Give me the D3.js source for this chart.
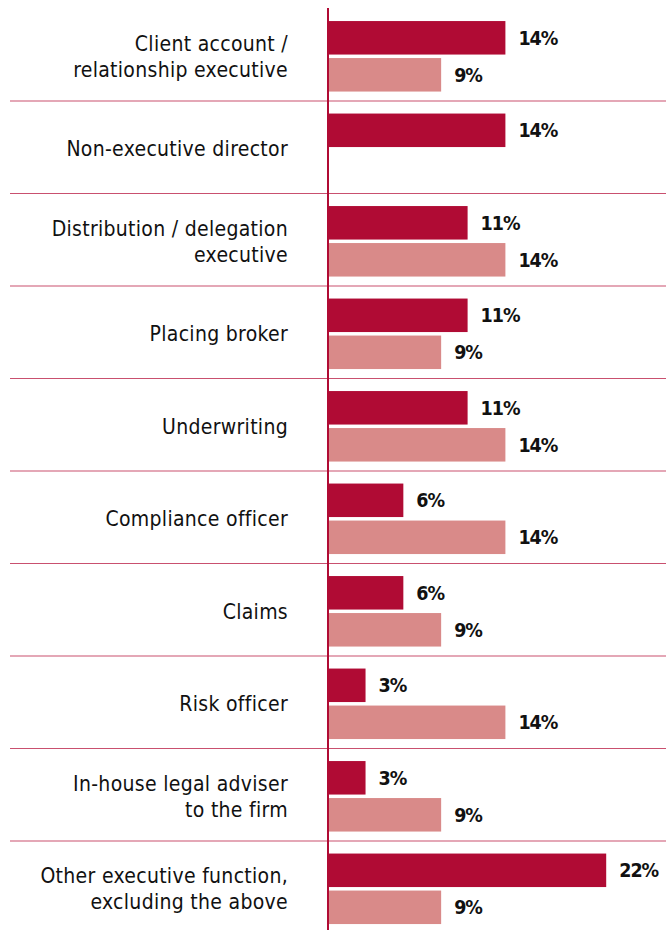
<!DOCTYPE html>
<html>
<head>
<meta charset="utf-8">
<script src="https://cdn.jsdelivr.net/npm/d3@7/dist/d3.min.js"></script>
<style>
  html, body { margin: 0; padding: 0; background: #ffffff; }
  svg { display: block; }
</style>
</head>
<body>
<div id="chart"></div>
<script>
// ---- data ----
const categories = [
  ["Client account /", "relationship executive"],
  ["Non-executive director"],
  ["Distribution / delegation", "executive"],
  ["Placing broker"],
  ["Underwriting"],
  ["Compliance officer"],
  ["Claims"],
  ["Risk officer"],
  ["In-house legal adviser", "to the firm"],
  ["Other executive function,", "excluding the above"]
];
const seriesA = [14, 14, 11, 11, 11, 5.9, 5.9, 2.9, 2.9, 22];
const seriesB = [8.9, null, 14, 8.9, 14, 14, 8.9, 14, 8.9, 8.9];
const seriesNames = ["A", "B"];
const seriesColors = ["#b00b34", "#d98a89"];

// ---- layout ----
const W = 666, H = 930;
const svg = d3.select("#chart").append("svg").attr("width", W).attr("height", H);

const x = d3.scaleLinear().domain([0, 25]).range([329, 329 + 25 * 12.6]);
const y = d3.scaleBand().domain(d3.range(categories.length)).range([8, 8 + 92.5 * categories.length]);
const barH = 33.5, gap = 3.5;
const centerOff = 48.3;

// separators
svg.append("g").selectAll("line")
  .data(d3.range(1, categories.length))
  .join("line")
  .attr("x1", 10).attr("x2", W)
  .attr("y1", i => y(i) + 0.5).attr("y2", i => y(i) + 0.5)
  .attr("stroke", "#c9506f").attr("stroke-width", 1.2);

const rows = categories.map((c, i) => ({i, label: c, vals: [seriesA[i], seriesB[i]]}));

const g = svg.append("g");
rows.forEach(r => {
  const cy = y(r.i) + centerOff;
  r.vals.forEach((v, k) => {
    if (v == null) return;
    const top = k === 0 ? cy - gap / 2 - barH : cy + gap / 2;
    g.append("rect")
      .attr("x", x(0)).attr("y", top)
      .attr("width", x(v) - x(0)).attr("height", barH)
      .attr("fill", seriesColors[k]);
    g.append("text")
      .attr("x", x(v) + 13).attr("y", top + barH / 2)
      .attr("dy", "0.36em")
      .attr("font-family", "DejaVu Sans Condensed, DejaVu Sans")
      .attr("font-stretch", "condensed")
      .attr("font-weight", "bold")
      .attr("font-size", 19.5)
      .attr("letter-spacing", -1)
      .attr("fill", "#111")
      .text(Math.round(v) + "%");
  });
  const lh = 26;
  const n = r.label.length;
  r.label.forEach((line, j) => {
    g.append("text")
      .attr("x", 288)
      .attr("y", cy + (j - (n - 1) / 2) * lh)
      .attr("dy", "0.36em")
      .attr("text-anchor", "end")
      .attr("font-family", "DejaVu Sans Condensed, DejaVu Sans")
      .attr("font-stretch", "condensed")
      .attr("font-size", 21)
      .attr("letter-spacing", 0.3)
      .attr("fill", "#111")
      .text(line);
  });
});

// vertical axis line
svg.append("line")
  .attr("x1", x(0) - 1).attr("x2", x(0) - 1)
  .attr("y1", 8).attr("y2", H)
  .attr("stroke", "#b00b34").attr("stroke-width", 2);
</script>
</body>
</html>
